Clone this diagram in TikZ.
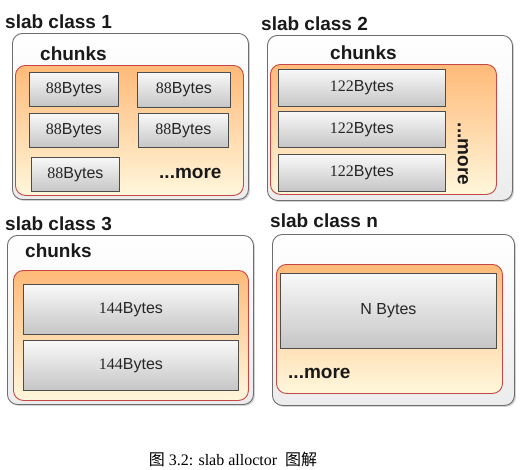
\documentclass[tikz,border=0pt]{standalone}
\usepackage{fontspec}
\setmainfont{Liberation Serif}
\newfontfamily\hs{Liberation Sans}
\newfontfamily\dg{Liberation Serif}
\newfontfamily\cjk{Noto Sans CJK SC}
\usetikzlibrary{shadows}
\definecolor{orTop}{RGB}{255,186,120}
\definecolor{orBot}{RGB}{255,247,220}
\definecolor{redB}{RGB}{200,70,70}
\definecolor{grB}{RGB}{110,110,110}
\begin{document}
\begin{tikzpicture}[x=1pt,y=-1pt,
  outerbox/.style={draw=grB, line width=0.9pt, rounded corners=10pt, top color=white, bottom color=gray!15,
     drop shadow={shadow xshift=1.5pt, shadow yshift=-1.5pt, opacity=0.35},
     anchor=north west, inner sep=0pt},
  innerbox/.style={draw=redB, line width=0.9pt, rounded corners=10pt, top color=orTop, bottom color=orBot,
     anchor=north west, inner sep=0pt},
  chunkbox/.style={draw=gray!60!black, line width=0.9pt, top color=gray!5, bottom color=gray!45,
     anchor=north west, inner sep=0pt, font=\hs\fontsize{16}{18}\selectfont, text=black!85},
  title/.style={anchor=base west, inner sep=0pt, font=\hs\bfseries\fontsize{19}{22}\selectfont, text=black!90},
  moretext/.style={inner sep=0pt, font=\hs\bfseries\fontsize{19}{22}\selectfont, text=black!90}
]
\useasboundingbox (0,0) rectangle (522,469);
% ---------- panel 1
\node[title] (t1) at (5,28) {slab class 1};
\node[outerbox, minimum width=236pt, minimum height=166pt] (o1) at (12,33) {};
\node[title] (ch1) at (40,60) {chunks};
\node[innerbox, minimum width=228pt, minimum height=130pt] (i1) at (15,65) {};
\node[chunkbox, minimum width=89pt, minimum height=34pt] (a1) at (29,72) {{\dg 88}Bytes};
\node[chunkbox, minimum width=93pt, minimum height=35pt] (a2) at (137,72) {{\dg 88}Bytes};
\node[chunkbox, minimum width=89pt, minimum height=34pt] (a3) at (29,113) {{\dg 88}Bytes};
\node[chunkbox, minimum width=90pt, minimum height=34pt] (a4) at (138,113) {{\dg 88}Bytes};
\node[chunkbox, minimum width=88pt, minimum height=34pt] (a5) at (31,157) {{\dg 88}Bytes};
\node[moretext, anchor=base west] (m1) at (159,178) {...more};
% ---------- panel 2
\node[title] (t2) at (261,30) {slab class 2};
\node[outerbox, minimum width=245pt, minimum height=165pt] (o2) at (267,35) {};
\node[title] (ch2) at (330,59) {chunks};
\node[innerbox, minimum width=226pt, minimum height=130pt] (i2) at (270,64) {};
\node[chunkbox, minimum width=167pt, minimum height=37pt] (b1) at (278,69) {{\dg 122}Bytes};
\node[chunkbox, minimum width=167pt, minimum height=36pt] (b2) at (278,111) {{\dg 122}Bytes};
\node[chunkbox, minimum width=167pt, minimum height=37pt] (b3) at (278,154) {{\dg 122}Bytes};
\node[moretext, rotate=-90] (m2) at (463,154) {...more};
% ---------- panel 3
\node[title] (t3) at (5,230) {slab class 3};
\node[outerbox, minimum width=246pt, minimum height=169pt] (o3) at (7,235) {};
\node[title] (ch3) at (25,257) {chunks};
\node[innerbox, minimum width=235pt, minimum height=130pt] (i3) at (13,270) {};
\node[chunkbox, minimum width=215pt, minimum height=50pt] (c1) at (23,284) {{\dg 144}Bytes};
\node[chunkbox, minimum width=215pt, minimum height=50pt] (c2) at (23,340) {{\dg 144}Bytes};
% ---------- panel 4
\node[title] (t4) at (270,227) {slab class n};
\node[outerbox, minimum width=242pt, minimum height=171pt] (o4) at (272,234) {};
\node[innerbox, minimum width=226pt, minimum height=129pt] (i4) at (276,264) {};
\node[chunkbox, minimum width=216pt, minimum height=75pt] (d1) at (280,273) {N Bytes};
\node[moretext, anchor=base west] (m4) at (288,378) {...more};
% ---------- caption
\node[inner sep=0pt, font=\fontsize{16}{19}\selectfont] (cap) at (233,459) {{\cjk 图} 3.2: slab alloctor\ \ {\cjk 图解}};
\end{tikzpicture}
\end{document}
